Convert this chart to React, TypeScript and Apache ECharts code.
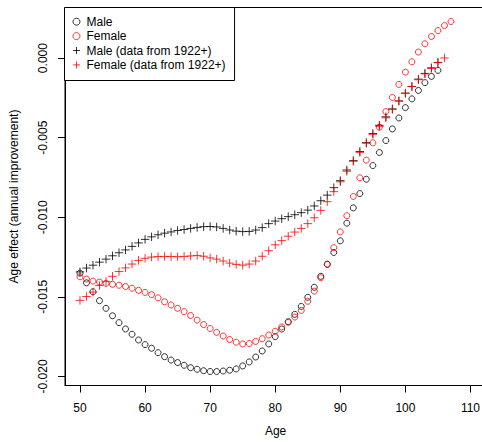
import React, { useEffect, useRef } from "react";
import * as echarts from "echarts";

// Ages (x values) shared by all four series; each series uses a prefix of it.
const ages = [
  50, 51, 52, 53, 54, 55, 56, 57, 58, 59, 60, 61, 62, 63, 64, 65, 66, 67, 68, 69,
  70, 71, 72, 73, 74, 75, 76, 77, 78, 79, 80, 81, 82, 83, 84, 85, 86, 87, 88, 89,
  90, 91, 92, 93, 94, 95, 96, 97, 98, 99, 100, 101, 102, 103, 104, 105, 106, 107,
];

// Male, full data (ages 50-105)
const maleAll = [
  -0.01351, -0.01412, -0.01468, -0.01524, -0.01572, -0.01619, -0.01662, -0.01702, -0.01735, -0.01771,
  -0.018, -0.01823, -0.01851, -0.01876, -0.01897, -0.01913, -0.0193, -0.01945, -0.01955, -0.01964,
  -0.01969, -0.01969, -0.01966, -0.01961, -0.01953, -0.01934, -0.01909, -0.01878, -0.0184, -0.01796,
  -0.0175, -0.01702, -0.01656, -0.0161, -0.0156, -0.01503, -0.0144, -0.01371, -0.01296, -0.01221,
  -0.01148, -0.01037, -0.00941, -0.00851, -0.00761, -0.00675, -0.00593, -0.00518, -0.00445, -0.00376,
  -0.00311, -0.00256, -0.00203, -0.00154, -0.00115, -0.00077,
];

// Female, full data (ages 50-107)
const femaleAll = [
  -0.01374, -0.01388, -0.01401, -0.01407, -0.01415, -0.01421, -0.01427, -0.01435, -0.01446, -0.01459,
  -0.01472, -0.01486, -0.01506, -0.01531, -0.01551, -0.01572, -0.01593, -0.01617, -0.01646, -0.01674,
  -0.01699, -0.01723, -0.01746, -0.01768, -0.01785, -0.01796, -0.01793, -0.0178, -0.01763, -0.0174,
  -0.01716, -0.01689, -0.0166, -0.01627, -0.01585, -0.01528, -0.01464, -0.0138, -0.01294, -0.01191,
  -0.01092, -0.0099, -0.00869, -0.00752, -0.00641, -0.00532, -0.00434, -0.00336, -0.00247, -0.00165,
  -0.00088, -0.00023, 0.00038, 0.0009, 0.00136, 0.00173, 0.00205, 0.0023,
];

// Male, data from 1922 onwards (ages 50-105)
const male1922 = [
  -0.01343, -0.01319, -0.01301, -0.01282, -0.01263, -0.01242, -0.01223, -0.01205, -0.01183, -0.01161,
  -0.01139, -0.01123, -0.0111, -0.011, -0.01092, -0.01083, -0.01077, -0.0107, -0.01064, -0.01059,
  -0.01058, -0.01061, -0.0107, -0.0108, -0.01087, -0.0109, -0.01089, -0.0108, -0.01065, -0.0104,
  -0.01024, -0.01009, -0.00996, -0.00984, -0.00971, -0.00955, -0.00929, -0.00896, -0.00861, -0.00814,
  -0.0077, -0.00703, -0.00644, -0.00587, -0.00531, -0.00474, -0.00422, -0.00369, -0.00319, -0.00269,
  -0.0022, -0.00178, -0.00132, -0.00096, -0.00061, -0.00027,
];

// Female, data from 1922 onwards (ages 50-106)
const female1922 = [
  -0.01522, -0.01498, -0.0147, -0.01429, -0.01403, -0.01371, -0.01341, -0.01318, -0.01294, -0.01271,
  -0.01258, -0.0125, -0.01247, -0.01246, -0.01247, -0.01248, -0.01246, -0.01243, -0.0124, -0.01245,
  -0.01255, -0.01263, -0.01275, -0.01288, -0.01296, -0.01301, -0.01294, -0.01275, -0.01245, -0.0121,
  -0.01173, -0.01147, -0.01119, -0.01093, -0.0107, -0.0104, -0.01003, -0.00957, -0.00902, -0.00839,
  -0.00777, -0.00711, -0.00648, -0.00592, -0.00535, -0.00479, -0.00428, -0.00375, -0.00322, -0.0027,
  -0.00221, -0.00179, -0.00136, -0.00099, -0.00065, -0.00029, 0.00001,
];

const xTicks = [50, 60, 70, 80, 90, 100, 110];
const yTicks = [-0.02, -0.015, -0.01, -0.005, 0];

const seriesNames = ["Male", "Female", "Male (data from 1922+)", "Female (data from 1922+)"];

const FONT = "'Liberation Sans', Arial, Helvetica, sans-serif";
const BLACK = "#000000";
const RED = "#ff0000";
const PLUS = "path://M0,5L10,5M5,0L5,10";

const toPoints = (vals: number[]) => vals.map((v, i) => [ages[i], v]);

export default function App() {
  const ref = useRef<HTMLDivElement>(null);

  useEffect(() => {
    if (!ref.current) return;
    const chart = echarts.init(ref.current, null, { renderer: "svg" });

    const markStyle = (color: string) => ({ color: "none", borderColor: color, borderWidth: 1 });
    const circleSeries = (name: string, vals: number[], color: string) => ({
      type: "scatter",
      name,
      data: toPoints(vals),
      symbol: "circle",
      symbolSize: 6,
      itemStyle: markStyle(color),
      silent: true,
    });
    const plusSeries = (name: string, vals: number[], color: string) => ({
      type: "scatter",
      name,
      data: toPoints(vals),
      symbol: PLUS,
      symbolSize: 8.5,
      symbolKeepAspect: true,
      itemStyle: markStyle(color),
      silent: true,
    });

    const axisText = { fontFamily: FONT, fontSize: 12, color: BLACK };

    chart.setOption({
      animation: false,
      backgroundColor: "#ffffff",
      grid: {
        left: 64.5,
        top: 7.5,
        width: 421.6,
        height: 378,
        show: true,
        borderColor: BLACK,
        borderWidth: 1,
        backgroundColor: "transparent",
      },
      xAxis: {
        type: "value",
        min: 47.7,
        max: 112.4,
        name: "Age",
        nameLocation: "middle",
        nameGap: 39,
        nameTextStyle: axisText,
        axisLine: { show: true, onZero: false, lineStyle: { color: BLACK, width: 1 } },
        splitLine: { show: false },
        axisTick: { show: true, inside: false, length: 7, lineStyle: { color: BLACK }, customValues: xTicks },
        axisLabel: { ...axisText, margin: 16, customValues: xTicks, formatter: (v: number) => String(v) },
      },
      yAxis: {
        type: "value",
        min: -0.02057,
        max: 0.00318,
        name: "Age effect (annual improvement)",
        nameLocation: "middle",
        nameGap: 45,
        nameTextStyle: axisText,
        axisLine: { show: true, onZero: false, lineStyle: { color: BLACK, width: 1 } },
        splitLine: { show: false },
        axisTick: { show: true, inside: false, length: 7, lineStyle: { color: BLACK }, customValues: yTicks },
        axisLabel: {
          ...axisText,
          rotate: 90,
          margin: 16,
          customValues: yTicks,
          formatter: (v: number) => (Math.abs(v) < 1e-12 ? "0.000" : v.toFixed(3)),
        },
      },
      legend: {
        orient: "vertical",
        left: 64.5,
        top: 7.5,
        padding: [7, 9, 8.4, 6],
        itemGap: 0,
        itemWidth: 10,
        itemHeight: 7,
        borderColor: BLACK,
        borderWidth: 1,
        borderRadius: 0,
        backgroundColor: "#ffffff",
        selectedMode: false,
        textStyle: { ...axisText, lineHeight: 14.4 },
        data: [
          { name: seriesNames[0], icon: "circle", itemStyle: markStyle(BLACK) },
          { name: seriesNames[1], icon: "circle", itemStyle: markStyle(RED) },
          { name: seriesNames[2], icon: PLUS, itemStyle: markStyle(BLACK) },
          { name: seriesNames[3], icon: PLUS, itemStyle: markStyle(RED) },
        ],
      },
      series: [
        circleSeries(seriesNames[0], maleAll, BLACK),
        circleSeries(seriesNames[1], femaleAll, RED),
        plusSeries(seriesNames[2], male1922, BLACK),
        plusSeries(seriesNames[3], female1922, RED),
      ],
    });

    return () => chart.dispose();
  }, []);

  return (
    <div
      style={{
        position: "fixed",
        left: 0,
        top: 0,
        width: 482,
        height: 442,
        overflow: "hidden",
        background: "#ffffff",
      }}
    >
      <div ref={ref} style={{ width: 487, height: 442 }} />
    </div>
  );
}
